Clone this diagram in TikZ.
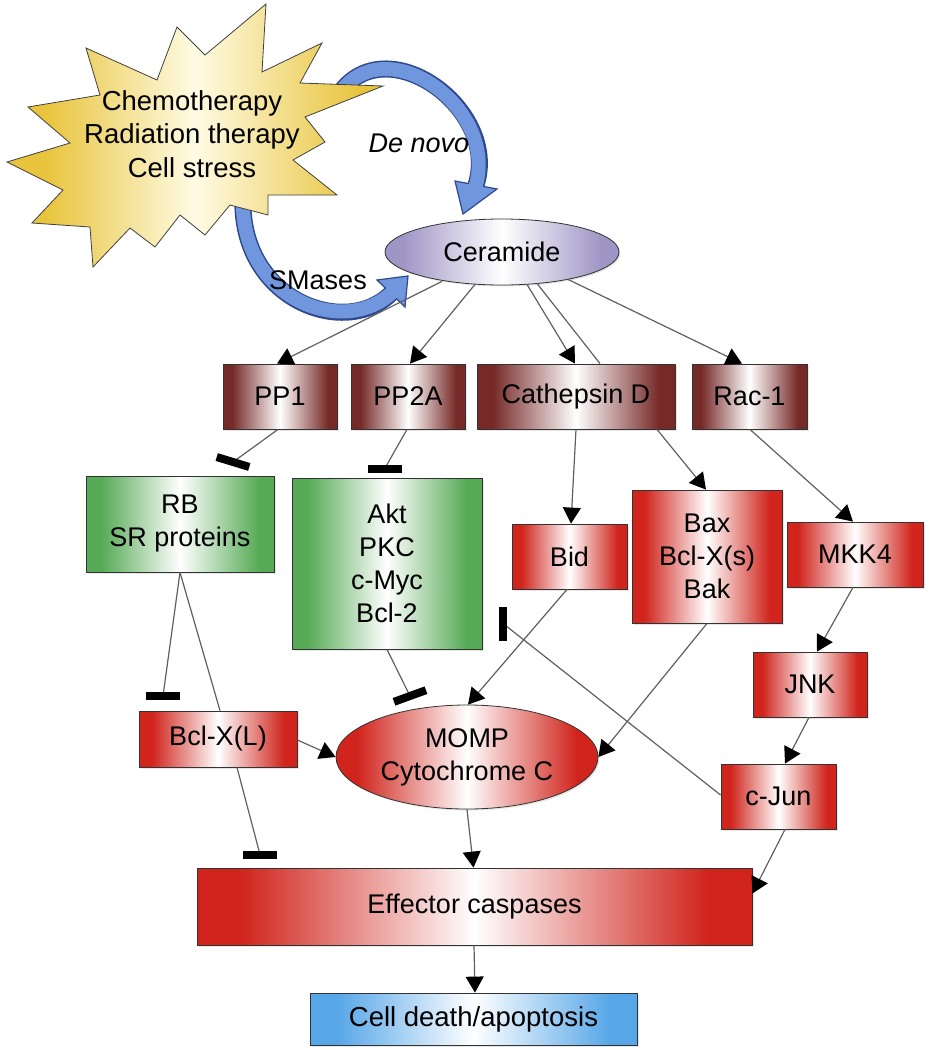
\documentclass[tikz,border=0pt]{standalone}
\usepackage{fontspec}
\setmainfont{Liberation Sans}
\usetikzlibrary{arrows.meta,calc,shadows,shapes.geometric}
\definecolor{brownC}{RGB}{118,42,40}
\definecolor{redC}{RGB}{208,36,28}
\definecolor{greenC}{RGB}{86,170,86}
\definecolor{lavC}{RGB}{160,150,198}
\definecolor{blueC}{RGB}{86,166,232}
\definecolor{goldC}{RGB}{232,196,60}
\definecolor{creamC}{RGB}{255,251,228}
\definecolor{arrowFill}{RGB}{112,150,222}
\definecolor{arrowEdge}{RGB}{48,72,140}
\definecolor{lineC}{RGB}{95,95,95}
\pgfdeclarehorizontalshading{brownsh}{100bp}{color(0bp)=(brownC); color(25bp)=(brownC); color(29bp)=(brownC); color(50bp)=(white); color(71bp)=(brownC); color(75bp)=(brownC); color(100bp)=(brownC)}
\pgfdeclarehorizontalshading{redsh}{100bp}{color(0bp)=(redC); color(25bp)=(redC); color(29bp)=(redC); color(50bp)=(white); color(71bp)=(redC); color(75bp)=(redC); color(100bp)=(redC)}
\pgfdeclarehorizontalshading{greensh}{100bp}{color(0bp)=(greenC); color(25bp)=(greenC); color(29bp)=(greenC); color(50bp)=(white); color(71bp)=(greenC); color(75bp)=(greenC); color(100bp)=(greenC)}
\pgfdeclarehorizontalshading{bluesh}{100bp}{color(0bp)=(blueC); color(25bp)=(blueC); color(29bp)=(blueC); color(50bp)=(white); color(71bp)=(blueC); color(75bp)=(blueC); color(100bp)=(blueC)}
\pgfdeclarehorizontalshading{lavsh}{100bp}{color(0bp)=(lavC); color(25bp)=(lavC); color(29bp)=(lavC); color(50bp)=(white); color(71bp)=(lavC); color(75bp)=(lavC); color(100bp)=(lavC)}
\pgfdeclarehorizontalshading{goldsh}{100bp}{color(0bp)=(goldC); color(25bp)=(goldC); color(30bp)=(goldC); color(50bp)=(creamC); color(72bp)=(goldC); color(75bp)=(goldC); color(100bp)=(goldC)}
\begin{document}
\begin{tikzpicture}[x=1pt,y=-1pt,
  lbl/.style={font=\fontsize{27}{33}\selectfont},
  box/.style={rectangle, draw=black!80, line width=0.8pt, inner sep=0pt, align=center, lbl, shade,
              drop shadow={opacity=0.2,shadow xshift=1.5pt,shadow yshift=-1.5pt}},
  brownbox/.style={box, shading=brownsh},
  redbox/.style={box, shading=redsh},
  greenbox/.style={box, shading=greensh},
  bluebox/.style={box, shading=bluesh},
  lavbox/.style={box, shading=lavsh},
  arr/.style={draw=lineC, line width=1.2pt, -{Triangle[length=16pt,width=18pt,color=black]}},
  plain/.style={draw=lineC, line width=1.2pt},
  bar/.style={rectangle, fill=black, minimum width=34pt, minimum height=8pt, inner sep=0pt},
  bshaft/.style={line width=17pt, draw=arrowEdge},
  bfill/.style={line width=14pt, draw=arrowFill},
  bhead/.style={fill=arrowFill, draw=arrowEdge, line width=1.2pt, line join=miter}
]
\useasboundingbox (0,0) rectangle (929,1050);

% ---- blue curved arrows (behind the star)
\draw[bshaft] (342,90) .. controls (390,30) and (500,110) .. (476,185);
\filldraw[bhead] (455,181) -- (463,214) -- (497,189) -- cycle;
\draw[bfill, shorten >=-3pt] (342,90) .. controls (390,30) and (500,110) .. (476,185);

\draw[bshaft] (243,195) .. controls (238,300) and (345,339) .. (391,293.5);
\filldraw[bhead] (377,280) -- (408,276) -- (405,307) -- cycle;
\draw[bfill, shorten >=-3pt] (243,195) .. controls (238,300) and (345,339) .. (391,293.5);

% ---- star
\shadedraw[shading=goldsh, draw=black!75, line width=0.8pt, line join=miter]
  (266,4) -- (262,72) -- (322,43) -- (300,83) -- (383,86) -- (305,117) -- (325,142) -- (293,160)
  -- (337,195) -- (268,195) -- (268,215) -- (230,205) -- (205,235) -- (180,215) -- (155,247)
  -- (130,228) -- (93,267) -- (90,227) -- (32,223) -- (63,190) -- (7,162) -- (70,143)
  -- (28,107) -- (100,95) -- (86,48) -- (157,80) -- (177,27) -- (205,55) -- cycle;
\node[align=center, font=\fontsize{27.5}{33.5}\selectfont] (stress) at (192,134) {Chemotherapy\\Radiation therapy\\Cell stress};
\node[font=\fontsize{27}{30}\selectfont\itshape] (denovo) at (419,143) {De novo};
\node[font=\fontsize{27}{30}\selectfont] (smases) at (318,280) {SMases};

% ---- nodes
\node[lavbox, ellipse, minimum width=234pt, minimum height=66pt] (Cer) at (502,252) {Ceramide};
\node[brownbox, minimum width=114pt, minimum height=65pt] (PP1) at (280,396.5) {PP1};
\node[brownbox, minimum width=114pt, minimum height=65pt] (PP2A) at (408,396.5) {PP2A};
\node[brownbox, minimum width=198pt, minimum height=65pt] (CathD) at (576,396.5) {Cathepsin D};
\node[brownbox, minimum width=115pt, minimum height=65pt] (Rac) at (749.5,396.5) {Rac-1};
\node[greenbox, minimum width=188pt, minimum height=96pt] (RB) at (180,524) {RB\\SR proteins};
\node[greenbox, minimum width=190pt, minimum height=171pt] (Akt) at (387,563.5) {Akt\\PKC\\c-Myc\\Bcl-2};
\node[redbox, minimum width=115pt, minimum height=65pt] (Bid) at (569.5,556.5) {Bid};
\node[redbox, minimum width=150pt, minimum height=133pt] (Bax) at (707,556.5) {Bax\\Bcl-X(s)\\Bak};
\node[redbox, minimum width=136pt, minimum height=65pt] (MKK) at (855,554.5) {MKK4};
\node[redbox, minimum width=114pt, minimum height=65pt] (JNK) at (810,684.5) {JNK};
\node[redbox, minimum width=115pt, minimum height=65pt] (cJun) at (778.5,796.5) {c-Jun};
\node[redbox, minimum width=158pt, minimum height=56pt] (Bcl) at (218,739) {Bcl-X(L)};
\node[redbox, ellipse, minimum width=262pt, minimum height=104pt] (MOMP) at (467,757) {MOMP\\Cytochrome C};
\node[redbox, minimum width=555pt, minimum height=77pt] (Eff) at (474.5,906.5) {Effector caspases};
\node[bluebox, minimum width=327pt, minimum height=52pt, font=\fontsize{27.5}{32}\selectfont] (Cell) at (473.5,1019) {Cell death/apoptosis};

% ---- activating connectors
\draw[arr] ($(Cer.south)+(-60,-4)$) -- ($(PP1.north)+(-3,0)$);
\draw[arr] ($(Cer.south)+(-27,-1)$) -- ($(PP2A.north)+(2,0)$);
\draw[arr] ($(Cer.south)+(25,-1)$) -- ($(CathD.north)+(-1,0)$);
\draw[plain] ($(Cer.south)+(35,-2)$) -- ($(CathD.north)+(24,0)$);
\draw[arr] ($(Cer.south)+(66,-6)$) -- ($(Rac.north)+(-7.5,0)$);
\draw[arr] (CathD.south) -- ($(Bid.north)+(1.5,0)$);
\draw[arr] ($(CathD.south)+(81,0)$) -- ($(Bax.north)+(-1,0)$);
\draw[arr] ($(Rac.south)+(0.5,0)$) -- ($(MKK.north)+(-2,0)$);
\draw[arr] ($(MKK.south)+(-2,0)$) -- ($(JNK.north)+(7,0)$);
\draw[arr] ($(JNK.south)+(-1,0)$) -- ($(cJun.north)+(6.5,0)$);
\draw[arr] ($(Bcl.east)+(0,1)$) -- (MOMP.west);
\draw[arr] ($(Bid.south)+(-2.5,0)$) -- ($(MOMP.north)+(1,0)$);
\draw[arr] (Bax.south) -- (MOMP.east);
\draw[arr] (MOMP.south) -- ($(Eff.north)+(-1,0)$);
\draw[arr] ($(cJun.south)+(6.5,0)$) -- ($(Eff.east)+(0,-13)$);
\draw[arr] ($(Eff.south)+(-0.5,0)$) -- ($(Cell.north)+(1.5,0)$);
\draw[plain] (RB.south) -- ($(Bcl.north)+(2,0)$);

% ---- inhibiting connectors
\coordinate (bA) at (233,462);
\coordinate (bB) at (384.5,469);
\coordinate (bC) at (163,696);
\coordinate (bD) at (410,696);
\coordinate (bE) at (503,623.5);
\coordinate (bF) at (260,854.5);
\draw[plain] ($(PP1.south)+(-2,0)$) -- (bA);
\draw[plain] ($(PP2A.south)+(-1,0)$) -- (bB);
\draw[plain] (RB.south) -- (bC);
\draw[plain] (Akt.south) -- (bD);
\draw[plain] ($(cJun.west)+(0,-1.5)$) -- (bE);
\draw[plain] ($(Bcl.south)+(19,0)$) -- (bF);
\node[bar, rotate=-17] (barA) at (bA) {};
\node[bar] (barB) at (bB) {};
\node[bar] (barC) at (bC) {};
\node[bar, rotate=20] (barD) at (bD) {};
\node[bar, rotate=90] (barE) at (bE) {};
\node[bar] (barF) at (bF) {};
\end{tikzpicture}
\end{document}
